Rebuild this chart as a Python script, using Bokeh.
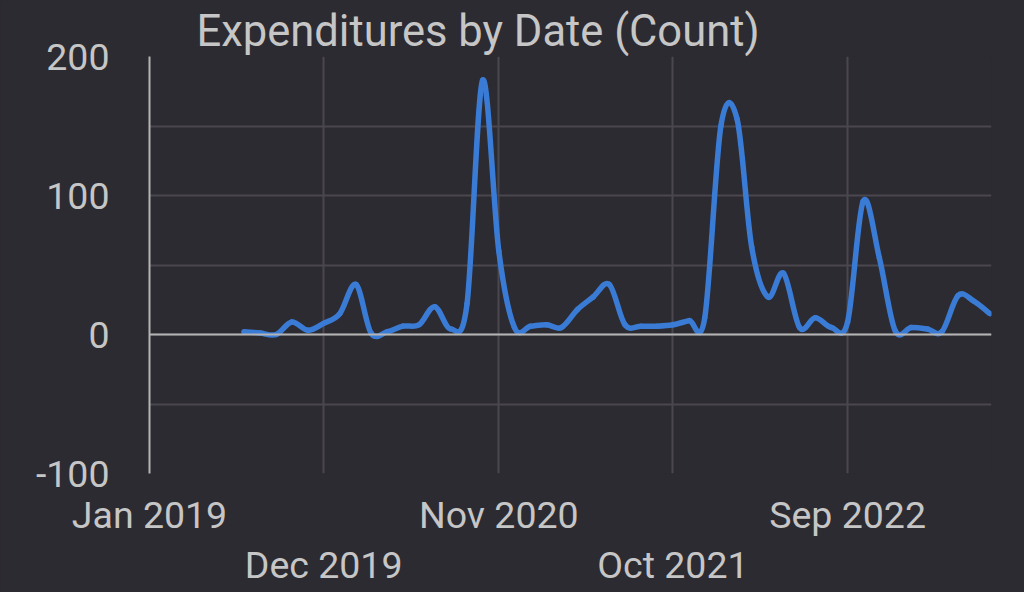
import numpy as np
import pandas as pd
from bokeh.plotting import figure
from bokeh.models import (FixedTicker, DatetimeAxis, DatetimeTickFormatter,
                          Span, ColumnDataSource)
from bokeh.embed import file_html
from bokeh.resources import INLINE

# ---------------- data ----------------
months = pd.date_range("2019-07-01", "2023-06-01", freq="MS")
counts = [2, 1, 0, 9, 3, 8,                              # Jul-Dec 2019
          15, 36, 1, 2, 6, 7, 20, 4, 22, 183, 60, 5,     # 2020
          6, 7, 5, 18, 27, 36, 7, 6, 6, 7, 10, 12,       # 2021
          150, 155, 63, 27, 44, 5, 12, 5, 9, 96, 55, 3,  # 2022
          5, 4, 2, 28, 24, 15]                           # Jan-Jun 2023
tick_row1 = ["2019-01-01", "2020-11-01", "2022-09-01"]
tick_row2 = ["2019-12-01", "2021-10-01"]
y_label_ticks = [-100, 0, 100, 200]
y_grid_ticks = [-100, -50, 0, 50, 100, 150, 200]
title_text = "Expenditures by Date (Count)"

# ---------------- layout / styles ----------------
W, H = 1016, 591
FL, FR, FT, FB = 149, 991, 56, 473      # frame edges in pixels
BG = "#2c2b31"
GRID = "#4a474e"
TXT = "#c6c6c6"
AXIS = "#b4b4b4"
LINE = "#3a7bd5"
FONT = "Roboto"
X0, X1 = "2019-01-01", "2023-06-04"
Y0, Y1 = -100, 200


def ms(d):
    return pd.Timestamp(d).value / 1e6


# smooth (Catmull-Rom) line drawn as cubic Bezier segments between data points
xs = np.array([ms(m) for m in months])
ys = np.array(counts, dtype=float)
n = len(xs)
ip = np.maximum(np.arange(n - 1) - 1, 0)
inx = np.minimum(np.arange(n - 1) + 2, n - 1)
k = 1.0 / 6.0
x0, y0, x1, y1 = xs[:-1], ys[:-1], xs[1:], ys[1:]
src = ColumnDataSource(dict(
    x0=x0, y0=y0, x1=x1, y1=y1,
    cx0=x0 + (x1 - xs[ip]) * k, cy0=y0 + (y1 - ys[ip]) * k,
    cx1=x1 - (xs[inx] - x0) * k, cy1=y1 - (ys[inx] - y0) * k))

p = figure(width=W, height=H, x_axis_type="datetime",
           x_range=(ms(X0), ms(X1)), y_range=(Y0, Y1),
           output_backend="svg", toolbar_location=None,
           min_border_left=FL, min_border_right=W - FR,
           min_border_top=FT, min_border_bottom=H - FB)
p.background_fill_color = BG
p.border_fill_color = BG
p.outline_line_color = None

p.title.text = title_text
p.title.text_font = FONT
p.title.text_font_size = "43.5px"
p.title.text_font_style = "normal"
p.title.text_color = TXT
p.title.align = "left"
p.title.offset = 47
p.title.standoff = 0

fmt = DatetimeTickFormatter(days="%b %Y", months="%b %Y", years="%b %Y",
                            hours="%b %Y", minutes="%b %Y", seconds="%b %Y",
                            milliseconds="%b %Y", minsec="%b %Y",
                            hourmin="%b %Y")


def style_x(ax, standoff):
    ax.axis_line_color = None
    ax.major_tick_in = 0
    ax.major_tick_out = 0
    ax.minor_tick_line_color = None
    ax.major_label_text_font = FONT
    ax.major_label_text_font_size = "37.5px"
    ax.major_label_text_color = TXT
    ax.major_label_standoff = standoff


xa = p.xaxis[0]
xa.ticker = FixedTicker(ticks=[ms(t) for t in tick_row1])
xa.formatter = fmt
style_x(xa, 19)

xb = DatetimeAxis(ticker=FixedTicker(ticks=[ms(t) for t in tick_row2]),
                  formatter=fmt)
style_x(xb, 3)
p.add_layout(xb, "below")

ya = p.yaxis[0]
ya.ticker = FixedTicker(ticks=y_label_ticks)
ya.major_label_overrides = {v: "%d" % v for v in y_label_ticks}
ya.axis_line_color = AXIS
ya.axis_line_width = 2
ya.major_tick_in = 0
ya.major_tick_out = 0
ya.minor_tick_line_color = None
ya.major_label_text_font = FONT
ya.major_label_text_font_size = "37.5px"
ya.major_label_text_color = TXT
ya.major_label_standoff = 40

p.xgrid.ticker = FixedTicker(ticks=[ms(t) for t in tick_row1 + tick_row2])
p.xgrid.grid_line_color = GRID
p.xgrid.grid_line_width = 2
p.ygrid.ticker = FixedTicker(ticks=y_grid_ticks)
p.ygrid.grid_line_color = GRID
p.ygrid.grid_line_width = 2

p.add_layout(Span(location=0, dimension="width", line_color=AXIS,
                  line_width=2))

p.bezier(x0="x0", y0="y0", x1="x1", y1="y1", cx0="cx0", cy0="cy0",
         cx1="cx1", cy1="cy1", source=src, line_color=LINE, line_width=5.5,
         line_cap="round")

html = file_html(p, INLINE)
html = html.replace("</head>",
                    "<style>html,body{background:%s;}</style></head>" % BG, 1)
open("out.html", "w").write(html)
